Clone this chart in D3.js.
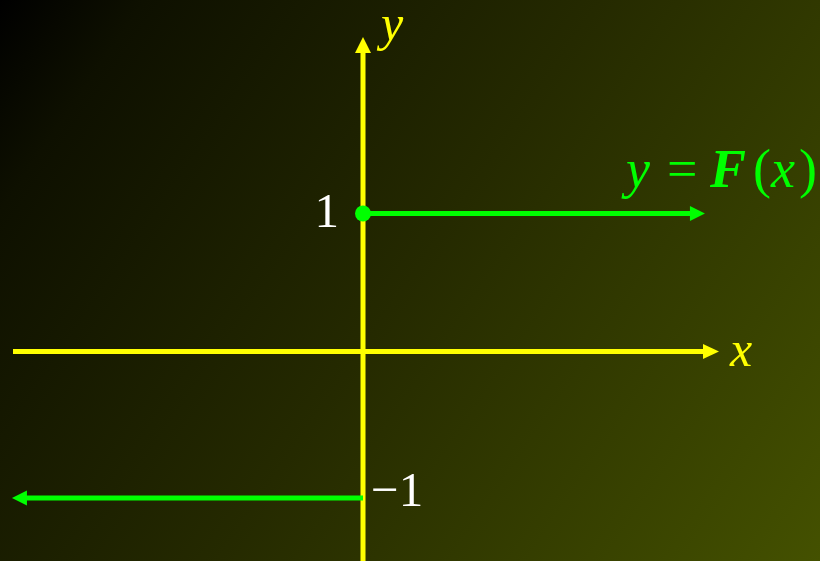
<!DOCTYPE html>
<html>
<head>
<meta charset="utf-8">
<script src="https://cdn.jsdelivr.net/npm/d3@7"></script>
<style>
  html, body { margin: 0; padding: 0; background: #000; }
  svg { display: block; }
</style>
</head>
<body>
<svg id="chart" width="820" height="561"></svg>
<script>
// step function F(x): -1 for x < 0, 1 for x >= 0
var stepX0 = [0, 0];
var stepX1 = [0.977, -1.003];
var stepY = [1, -1];
var closedDot = [{x: 0, y: 1}];
var tickValues = [1, -1];
var tickLabels = ["1", "\u22121"];

var width = 820, height = 561;
var svg = d3.select("#chart");

var x = d3.scaleLinear().domain([-1, 1]).range([13, 713]);
var y = d3.scaleLinear().domain([-1, 0, 1]).range([498, 351.5, 213.5]);

// background gradient
var defs = svg.append("defs");
var grad = defs.append("linearGradient")
    .attr("id", "bg")
    .attr("gradientUnits", "userSpaceOnUse")
    .attr("x1", 0).attr("y1", 0)
    .attr("x2", width).attr("y2", height);
grad.append("stop").attr("offset", 0).attr("stop-color", "#000000");
grad.append("stop").attr("offset", 0.12).attr("stop-color", "#0e1000");
grad.append("stop").attr("offset", 0.5).attr("stop-color", "#252a00");
grad.append("stop").attr("offset", 1).attr("stop-color", "#445100");
svg.append("rect").attr("width", width).attr("height", height).attr("fill", "url(#bg)");

// filled triangle arrow head, tip at (tx, ty), pointing along (dx, dy)
function arrowHead(tx, ty, dx, dy, len, half, color) {
    var px = -dy, py = dx;
    var bx = tx - dx * len, by = ty - dy * len;
    svg.append("path")
        .attr("d", "M" + tx + "," + ty +
                   "L" + (bx + px * half) + "," + (by + py * half) +
                   "L" + (bx - px * half) + "," + (by - py * half) + "Z")
        .attr("fill", color);
}

// axes
var axisColor = "#ffff00";
var xTip = x(1) + 6, yTip = 37;
svg.append("line")
    .attr("x1", x(-1)).attr("x2", xTip - 10)
    .attr("y1", y(0)).attr("y2", y(0))
    .attr("stroke", axisColor).attr("stroke-width", 5);
arrowHead(xTip, y(0), 1, 0, 16, 7.5, axisColor);
svg.append("line")
    .attr("x1", x(0)).attr("x2", x(0))
    .attr("y1", height).attr("y2", yTip + 10)
    .attr("stroke", axisColor).attr("stroke-width", 5);
arrowHead(x(0), yTip, 0, -1, 16, 8, axisColor);

// step segments
var green = "#00ff00";
var steps = stepY.map(function(v, i) { return {x0: stepX0[i], x1: stepX1[i], y: v}; });
svg.selectAll(".step")
    .data(steps)
    .join("line")
    .attr("class", "step")
    .attr("x1", d => x(d.x0))
    .attr("x2", d => x(d.x1) - Math.sign(d.x1 - d.x0) * 10)
    .attr("y1", d => y(d.y)).attr("y2", d => y(d.y))
    .attr("stroke", green).attr("stroke-width", 5);
steps.forEach(function(d) {
    arrowHead(x(d.x1), y(d.y), Math.sign(d.x1 - d.x0), 0, 15, 7.5, green);
});

svg.selectAll(".dot")
    .data(closedDot)
    .join("circle")
    .attr("class", "dot")
    .attr("cx", d => x(d.x)).attr("cy", d => y(d.y))
    .attr("r", 8)
    .attr("fill", green);

// tick labels
var font = "'Liberation Serif', 'Times New Roman', serif";
svg.selectAll(".tick")
    .data(tickValues)
    .join("text")
    .attr("class", "tick")
    .attr("x", (d, i) => i === 0 ? x(0) - 24 : x(0) + 8)
    .attr("y", d => y(d) + (d > 0 ? 13 : 8))
    .attr("text-anchor", (d, i) => i === 0 ? "end" : "start")
    .attr("font-family", font)
    .attr("font-size", 49)
    .attr("fill", "#ffffff")
    .text((d, i) => tickLabels[i]);

// axis names
svg.append("text")
    .attr("x", 381).attr("y", 40)
    .attr("font-family", font).attr("font-size", 50)
    .attr("font-style", "italic").attr("fill", axisColor)
    .text("y");
svg.append("text")
    .attr("x", 730).attr("y", 366)
    .attr("font-family", font).attr("font-size", 50)
    .attr("font-style", "italic").attr("fill", axisColor)
    .text("x");

// function label y = F(x)
var labelParts = [
    {t: "y", x: 626, italic: true, bold: false},
    {t: "=", x: 667, italic: false, bold: false},
    {t: "F", x: 710, italic: true, bold: true},
    {t: "(", x: 753, italic: false, bold: false},
    {t: "x", x: 771, italic: true, bold: false},
    {t: ")", x: 799, italic: false, bold: false}
];
svg.selectAll(".flabel")
    .data(labelParts)
    .join("text")
    .attr("class", "flabel")
    .attr("x", d => d.x).attr("y", 187)
    .attr("font-family", font).attr("font-size", 54)
    .attr("font-style", d => d.italic ? "italic" : "normal")
    .attr("font-weight", d => d.bold ? "bold" : "normal")
    .attr("fill", green)
    .text(d => d.t);
</script>
</body>
</html>
